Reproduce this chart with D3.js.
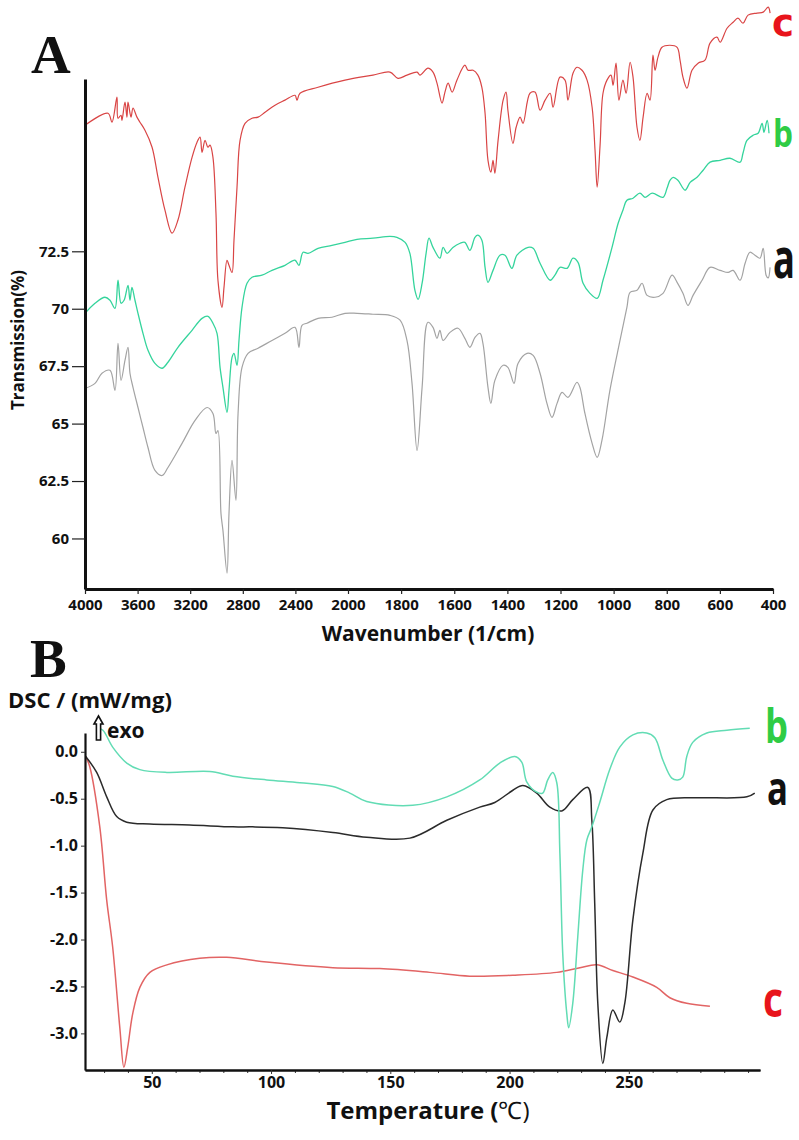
<!DOCTYPE html>
<html><head><meta charset="utf-8">
<script src="https://cdn.jsdelivr.net/npm/d3@7"></script>
<style>
html,body{margin:0;padding:0;background:#fff;}
svg{display:block;}
text{font-family:"Open Sans",sans-serif;}
</style></head><body>
<svg id="chart" width="799" height="1140"></svg>
<script>
// ---------- Panel A: FTIR ----------
const ftirTicksX = [4000,3600,3200,2800,2400,2000,1800,1600,1400,1200,1000,800,600,400];
const ftirTicksY = [60,62.5,65,67.5,70,72.5];
const ftirTickLabelsY = ["60","62.5","65","67.5","70","72.5"];

// [wavenumber (1/cm), transmission (%)]
const ftirC = [[4000,77.99],[3825,78.51],[3795,78.12],[3757,79.21],[3749,78.29],[3726,78.42],[3719,78.20],[3696,78.99],[3681,78.34],[3673,78.99],[3650,78.34],[3635,78.73],[3605,78.34],[3582,78.12],[3544,77.77],[3490,77.03],[3445,75.72],[3392,74.29],[3338,73.29],[3293,73.86],[3240,75.29],[3186,76.59],[3148,77.25],[3125,77.47],[3110,76.81],[3087,77.33],[3065,77.03],[3049,77.12],[3027,76.59],[3004,74.16],[2989,71.24],[2958,70.06],[2943,70.93],[2920,72.11],[2905,71.89],[2882,71.58],[2867,72.98],[2844,75.29],[2821,77.33],[2783,78.07],[2730,78.29],[2684,78.34],[2631,78.55],[2555,78.86],[2479,79.08],[2403,79.29],[2388,79.08],[2365,79.38],[2228,79.64],[2023,79.95],[1906,80.17],[1842,80.30],[1812,80.03],[1778,80.17],[1740,80.30],[1729,80.17],[1699,80.47],[1680,80.30],[1665,79.82],[1646,78.95],[1635,79.43],[1623,79.82],[1608,79.43],[1590,79.95],[1560,80.60],[1548,80.38],[1529,80.38],[1511,80.17],[1496,79.64],[1484,78.51],[1473,76.46],[1462,75.94],[1454,76.46],[1447,75.90],[1435,77.33],[1416,79.08],[1405,79.43],[1398,78.64],[1379,77.20],[1367,77.90],[1352,78.34],[1341,78.07],[1315,79.38],[1296,79.43],[1277,78.64],[1258,79.08],[1239,79.38],[1228,78.77],[1202,80.08],[1183,79.95],[1172,79.08],[1153,80.25],[1138,80.51],[1119,80.38],[1100,79.95],[1081,78.77],[1070,76.90],[1062,75.29],[1051,77.12],[1040,79.38],[1025,79.95],[1010,80.17],[1002,79.73],[991,80.69],[980,79.08],[965,79.95],[953,79.38],[938,80.73],[927,80.08],[912,77.90],[901,77.33],[889,78.34],[874,79.38],[863,79.08],[852,81.04],[844,80.38],[833,80.95],[818,81.38],[788,81.47],[761,81.38],[750,80.82],[739,80.08],[724,79.60],[705,80.38],[682,80.69],[656,80.82],[637,81.56],[611,81.82],[599,81.60],[573,82.21],[550,82.47],[532,82.65],[513,82.43],[494,82.78],[460,82.87],[437,82.91],[418,83.13],[411,82.87]];

const ftirB = [[4000,69.80],[3924,70.24],[3848,70.50],[3810,70.37],[3772,70.02],[3749,71.24],[3726,70.24],[3703,70.37],[3673,71.02],[3658,70.37],[3643,70.93],[3620,70.37],[3597,69.80],[3559,68.93],[3521,68.19],[3468,67.62],[3414,67.41],[3369,67.67],[3293,68.32],[3186,69.06],[3110,69.58],[3065,69.67],[3027,69.37],[2996,68.93],[2973,67.45],[2951,66.58],[2920,65.49],[2905,66.45],[2882,67.88],[2867,68.06],[2844,67.54],[2829,68.62],[2806,70.06],[2768,71.11],[2730,71.37],[2654,71.46],[2578,71.67],[2479,71.89],[2403,72.11],[2373,71.89],[2342,72.46],[2304,72.41],[2228,72.63],[2122,72.76],[2023,72.89],[1966,73.02],[1906,73.07],[1842,73.15],[1816,73.11],[1785,72.89],[1767,72.41],[1748,70.80],[1736,70.41],[1721,71.11],[1706,72.41],[1695,73.07],[1680,72.67],[1654,72.20],[1642,72.67],[1627,72.41],[1605,72.67],[1578,72.85],[1560,72.89],[1541,72.54],[1522,73.11],[1511,73.20],[1496,72.98],[1484,71.80],[1473,71.15],[1454,71.67],[1428,72.33],[1409,72.33],[1383,71.76],[1364,72.33],[1322,72.67],[1303,72.63],[1277,71.98],[1239,71.24],[1221,71.46],[1202,71.80],[1175,71.76],[1153,72.20],[1134,72.02],[1115,71.11],[1089,70.67],[1062,70.45],[1040,71.24],[1006,72.67],[983,73.72],[965,74.29],[950,74.72],[927,74.81],[901,75.03],[882,74.85],[855,75.03],[814,74.85],[799,75.24],[788,75.59],[776,75.72],[758,75.59],[731,75.16],[712,75.50],[686,75.72],[663,76.03],[637,76.38],[599,76.46],[562,76.55],[524,76.38],[513,76.77],[498,77.33],[475,77.55],[456,77.64],[441,78.07],[434,77.68],[422,78.20],[415,77.64]];

const ftirA = [[4000,66.53],[3924,66.75],[3871,67.19],[3810,67.32],[3772,66.45],[3749,68.49],[3726,66.88],[3696,67.75],[3673,68.32],[3658,67.19],[3635,66.58],[3597,65.70],[3559,64.83],[3521,63.96],[3468,62.96],[3414,62.74],[3369,63.09],[3262,64.14],[3163,65.14],[3072,65.70],[3027,65.44],[3004,64.57],[2989,64.70],[2966,61.09],[2951,60.35],[2920,58.49],[2905,61.09],[2882,63.40],[2852,61.66],[2836,65.44],[2806,67.45],[2760,68.06],[2684,68.28],[2578,68.62],[2479,68.93],[2403,69.19],[2373,68.32],[2350,69.28],[2312,69.37],[2228,69.58],[2122,69.63],[2023,69.80],[1966,69.80],[1906,69.76],[1842,69.71],[1804,69.50],[1778,68.62],[1759,66.75],[1740,63.83],[1721,66.58],[1699,69.41],[1680,69.19],[1665,68.71],[1654,69.06],[1642,68.62],[1616,68.97],[1586,69.15],[1560,68.71],[1541,68.32],[1522,68.75],[1503,68.93],[1492,68.49],[1473,66.58],[1462,65.88],[1447,66.88],[1416,67.54],[1398,67.45],[1375,66.75],[1360,67.62],[1326,68.06],[1303,67.97],[1277,67.19],[1251,65.88],[1232,65.27],[1213,65.88],[1194,66.36],[1172,66.14],[1138,66.80],[1127,66.58],[1108,65.44],[1081,64.14],[1062,63.53],[1044,64.27],[1014,66.45],[976,68.62],[950,70.06],[938,70.71],[912,70.80],[893,71.11],[874,70.58],[844,70.50],[814,70.67],[780,71.46],[761,71.15],[739,70.67],[720,70.15],[701,70.58],[667,71.24],[637,71.80],[599,71.67],[569,71.58],[550,71.67],[524,71.24],[505,71.98],[487,72.46],[468,72.33],[449,72.20],[437,72.63],[426,71.46],[418,71.34],[411,71.80]];

// ---------- Panel B: DSC ----------
const dscTicksX = [50,100,150,200,250];
const dscMinorTicksX = [30,40,60,70,80,90,110,120,130,140,160,170,180,190,210,220,230,240,260,270,280,290,300];
const dscTicksY = [0,-0.5,-1,-1.5,-2,-2.5,-3];
const dscTickLabelsY = ["0.0","-0.5","-1.0","-1.5","-2.0","-2.5","-3.0"];

// [temperature (°C), DSC (mW/mg)]
const dscC = [[22.3,-0.05],[24.0,-0.16],[28.2,-0.80],[31.1,-1.58],[33.6,-2.08],[36.6,-2.94],[38.3,-3.36],[39.9,-3.15],[42.0,-2.79],[45.0,-2.51],[49.2,-2.35],[56.3,-2.27],[70.1,-2.20],[81.4,-2.19],[98.2,-2.24],[125.9,-2.30],[145.6,-2.31],[166.6,-2.35],[183.3,-2.39],[201.4,-2.38],[219.8,-2.35],[229.5,-2.30],[236.6,-2.27],[243.3,-2.33],[251.7,-2.40],[261.7,-2.51],[267.2,-2.62],[274.3,-2.68],[284.0,-2.71]];

const dscA = [[22.3,-0.05],[26.9,-0.22],[31.1,-0.48],[35.3,-0.69],[39.5,-0.75],[49.2,-0.77],[65.9,-0.78],[84.0,-0.80],[92.3,-0.80],[104.9,-0.81],[125.9,-0.86],[140.1,-0.91],[158.2,-0.92],[173.7,-0.73],[187.5,-0.59],[193.8,-0.54],[201.4,-0.41],[205.6,-0.36],[211.4,-0.44],[216.9,-0.59],[221.9,-0.63],[226.5,-0.51],[232.8,-0.38],[234.5,-0.73],[235.7,-1.61],[237.0,-2.68],[239.1,-3.32],[240.8,-3.04],[243.3,-2.75],[246.2,-2.88],[248.3,-2.68],[251.7,-1.79],[255.9,-1.08],[260.1,-0.62],[265.9,-0.51],[278.5,-0.49],[299.5,-0.48],[302.8,-0.44]];

const dscB = [[26.9,0.26],[29.5,0.23],[33.6,0.05],[39.5,-0.12],[45.0,-0.19],[56.3,-0.22],[74.3,-0.21],[84.0,-0.26],[98.2,-0.30],[112.1,-0.33],[125.9,-0.37],[133.0,-0.44],[140.1,-0.53],[159.4,-0.57],[173.7,-0.48],[187.5,-0.30],[195.9,-0.12],[202.2,-0.05],[205.1,-0.11],[207.2,-0.32],[211.4,-0.43],[213.9,-0.44],[216.0,-0.30],[218.1,-0.22],[219.8,-0.33],[221.1,-1.08],[222.3,-2.15],[224.0,-2.79],[224.8,-2.94],[226.5,-2.68],[228.6,-1.97],[230.7,-1.26],[232.4,-0.94],[234.5,-0.80],[237.8,-0.54],[242.0,-0.19],[246.2,0.05],[251.7,0.18],[257.5,0.20],[260.9,0.15],[264.3,-0.09],[268.0,-0.28],[270.5,-0.30],[272.6,-0.27],[274.3,-0.05],[276.8,0.10],[282.7,0.20],[291.1,0.23],[300.7,0.25]];

// ---------- Drawing ----------
const svg = d3.select("#chart");
svg.append("rect").attr("width",799).attr("height",1140).attr("fill","#fff");

// Panel A scales (scale break at 2000 1/cm)
const xA = d3.scaleLinear().domain([4000,2000,400]).range([85,348,773]);
const yA = d3.scaleLinear().domain([57.8,80]).range([589,79]);

const gA = svg.append("g");
const lineA = d3.line().x(d=>xA(d[0])).y(d=>yA(d[1])).curve(d3.curveCatmullRom.alpha(0.5));
gA.append("path").datum(ftirA).attr("d",lineA).attr("fill","none").attr("stroke","#a3a3a3").attr("stroke-width",1.2);
gA.append("path").datum(ftirB).attr("d",lineA).attr("fill","none").attr("stroke","#35d49c").attr("stroke-width",1.3);
gA.append("path").datum(ftirC).attr("d",lineA).attr("fill","none").attr("stroke","#d94545").attr("stroke-width",1.2);

const axXA = gA.append("g").attr("transform","translate(0,589)")
  .call(d3.axisBottom(xA).tickValues(ftirTicksX).tickSize(5).tickSizeOuter(0).tickPadding(5).tickFormat(d=>String(d)));
const axYA = gA.append("g").attr("transform","translate(85,0)")
  .call(d3.axisLeft(yA).tickValues(ftirTicksY).tickSize(13).tickSizeOuter(0).tickPadding(3).tickFormat((d,i)=>ftirTickLabelsY[i]));
[axXA,axYA].forEach(a=>{
  a.select(".domain").attr("stroke","#111").attr("stroke-width",3);
  a.selectAll(".tick line").attr("stroke","#222").attr("stroke-width",1.2);
  a.selectAll(".tick text").attr("fill","#111").style("font-family","'Open Sans',sans-serif").style("font-weight","bold").style("font-size","15px");
});

gA.append("text").attr("x",428).attr("y",641).attr("text-anchor","middle")
  .style("font-weight","bold").style("font-size","21px").attr("fill","#111").text("Wavenumber  (1/cm)");
gA.append("text").attr("transform","translate(24,340) rotate(-90)").attr("text-anchor","middle")
  .style("font-weight","bold").style("font-size","17px").attr("fill","#111").text("Transmission(%)");
gA.append("text").attr("x",31).attr("y",73).style("font-family","'Liberation Serif',serif").style("font-weight","bold")
  .style("font-size","55px").attr("fill","#111").text("A");

// series letter labels, squeezed horizontally to a target width
function seriesLabel(g,txt,x,y,size,w,color,family){
  const t = g.append("text").attr("x",0).attr("y",0).style("font-weight","bold").style("font-size",size+"px")
   .attr("fill",color).text(txt);
  if(family) t.style("font-family",family);
  const nat = t.node().getComputedTextLength();
  const sx = Math.min(1, w/nat);
  t.attr("transform",`translate(${x},${y}) scale(${sx},1)`);
}
seriesLabel(gA,"c",772,36,38,22,"#e8141b","'DejaVu Sans',sans-serif");
seriesLabel(gA,"b",773,147,38,20,"#2fcc45");
seriesLabel(gA,"a",773,278,55,22,"#111");

// Panel B scales
const xB = d3.scaleLinear().domain([22,305]).range([85,760]);
const yB = d3.scaleLinear().domain([-3.39,0.2]).range([1070,733]);
const gB = svg.append("g");
const lineB = d3.line().x(d=>xB(d[0])).y(d=>yB(d[1])).curve(d3.curveCatmullRom.alpha(0.5));
gB.append("path").datum(dscC).attr("d",lineB).attr("fill","none").attr("stroke","#e26464").attr("stroke-width",1.5);
gB.append("path").datum(dscA).attr("d",lineB).attr("fill","none").attr("stroke","#2b2b2b").attr("stroke-width",1.5);
gB.append("path").datum(dscB).attr("d",lineB).attr("fill","none").attr("stroke","#62dcb4").attr("stroke-width",1.5);

const axXBminor = gB.append("g").attr("transform","translate(0,1070)")
  .call(d3.axisBottom(xB).tickValues(dscMinorTicksX).tickSize(3).tickSizeOuter(0).tickFormat(""));
const axXB = gB.append("g").attr("transform","translate(0,1070)")
  .call(d3.axisBottom(xB).tickValues(dscTicksX).tickSize(4).tickSizeOuter(0).tickPadding(3).tickFormat(d=>String(d)));
const axYB = gB.append("g").attr("transform","translate(85,0)")
  .call(d3.axisLeft(yB).tickValues(dscTicksY).tickSize(4).tickSizeOuter(0).tickPadding(3).tickFormat((d,i)=>dscTickLabelsY[i]));
[axXBminor,axXB,axYB].forEach(a=>{
  a.select(".domain").attr("stroke","#111").attr("stroke-width",2.2);
  a.selectAll(".tick line").attr("stroke","#333").attr("stroke-width",1);
  a.selectAll(".tick text").attr("fill","#111").style("font-family","'Open Sans',sans-serif").style("font-weight","bold").style("font-size","16px");
});

const tt = gB.append("text").attr("x",428).attr("y",1119).attr("text-anchor","middle")
  .style("font-weight","bold").style("font-size","24px").attr("fill","#111");
tt.append("tspan").text("Temperature (");
tt.append("tspan").style("font-weight","normal").text("℃");
tt.append("tspan").style("font-weight","normal").text(")");

gB.append("text").attr("x",8).attr("y",708).style("font-weight","bold").style("font-size","22px").attr("fill","#111").text("DSC / (mW/mg)");
gB.append("path").attr("d","M98.5,716 L103,724 L100.6,724 L100.6,740 L96.4,740 L96.4,724 L94,724 Z")
  .attr("fill","#fff").attr("stroke","#111").attr("stroke-width",1.6);
gB.append("text").attr("x",107).attr("y",738).style("font-weight","bold").style("font-size","21px").attr("fill","#111").text("exo");
gB.append("text").attr("x",30).attr("y",677).style("font-family","'Liberation Serif',serif").style("font-weight","bold")
  .style("font-size","55px").attr("fill","#111").text("B");

seriesLabel(gB,"b",765,743,47,23,"#2fcc45");
seriesLabel(gB,"a",767,805,47,21,"#111");
seriesLabel(gB,"c",763,1017,50,20,"#e8141b");
</script>
</body></html>
